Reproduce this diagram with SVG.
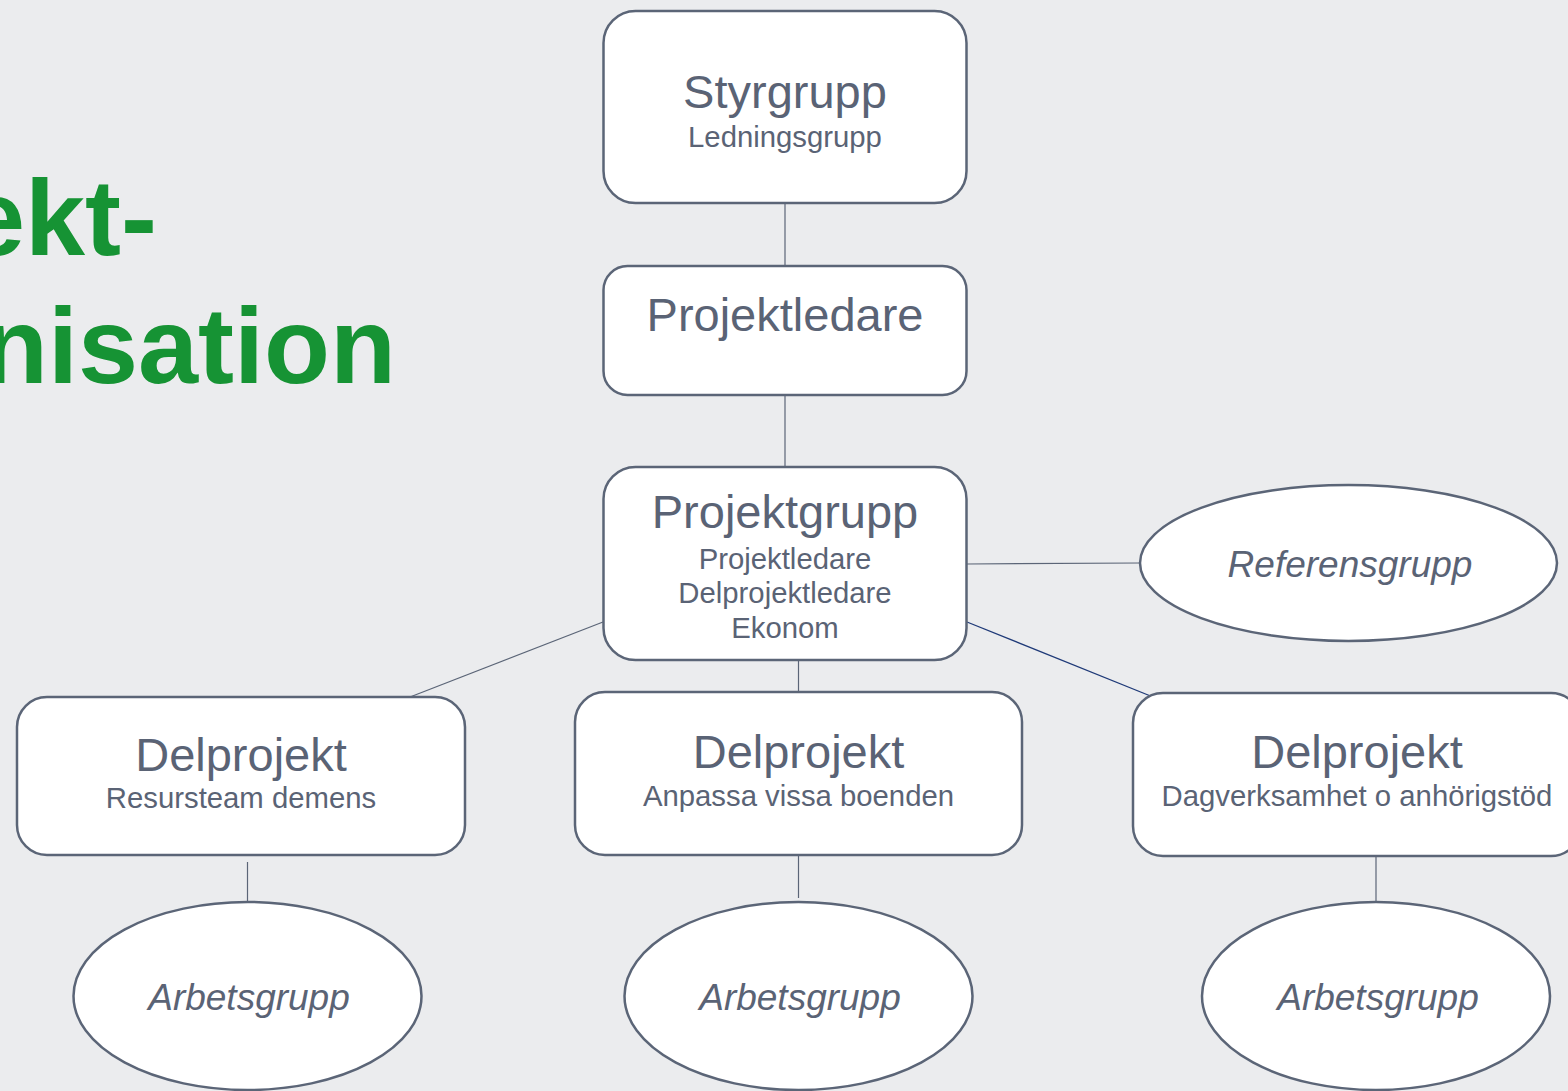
<svg xmlns="http://www.w3.org/2000/svg" width="1568" height="1091" viewBox="0 0 1568 1091">
<style>
.bg{fill:#EBECEE}
.box{fill:#FFFFFF;stroke:#5B6577;stroke-width:2.5}
.t{font-family:"Liberation Sans",Arial,sans-serif;fill:#5A6375;text-anchor:middle}
.big{font-size:47px}
.sub{font-size:29.3px}
.it{font-style:italic;font-size:37px}
.title{font-family:"Liberation Sans",Arial,sans-serif;font-weight:bold;font-size:108px;fill:#169334;text-anchor:end}
.c{stroke:#5B6577;stroke-width:1.2;fill:none}
.cn{stroke:#1F3A78;stroke-width:1.3;fill:none}
</style>
<rect class="bg" x="0" y="0" width="1568" height="1091"/>
<g id="title">
<text class="title" x="157" y="255">ekt-</text>
<text class="title" x="396" y="383">nisation</text>
</g>
<g id="connectors">
<line class="c" x1="785" y1="203" x2="785" y2="266"/>
<line class="c" x1="785" y1="395" x2="785" y2="467"/>
<line class="c" x1="967" y1="564" x2="1140" y2="563"/>
<line class="c" x1="798.5" y1="660" x2="798.5" y2="692"/>
<line class="c" x1="603" y1="622" x2="410" y2="697"/>
<line class="cn" x1="967" y1="622" x2="1153" y2="697"/>
<line class="c" x1="247.5" y1="862" x2="247.5" y2="901"/>
<line class="c" x1="798.5" y1="856" x2="798.5" y2="898"/>
<line class="c" x1="1376" y1="856" x2="1376" y2="901"/>
</g>
<g id="styrgrupp">
<rect class="box" x="603.5" y="11" width="363" height="192" rx="32"/>
<text class="t big" x="785" y="108">Styrgrupp</text>
<text class="t sub" x="785" y="147">Ledningsgrupp</text>
</g>
<g id="projektledare">
<rect class="box" x="603.5" y="266" width="363" height="129" rx="24"/>
<text class="t big" x="785" y="331">Projektledare</text>
</g>
<g id="projektgrupp">
<rect class="box" x="603.5" y="467" width="363" height="193" rx="32"/>
<text class="t big" x="785" y="528">Projektgrupp</text>
<text class="t sub" x="785" y="569">Projektledare</text>
<text class="t sub" x="785" y="603">Delprojektledare</text>
<text class="t sub" x="785" y="638">Ekonom</text>
</g>
<g id="referensgrupp">
<ellipse class="box" cx="1348.5" cy="563" rx="208.5" ry="78"/>
<text class="t it" x="1350" y="577">Referensgrupp</text>
</g>
<g id="delprojekt1">
<rect class="box" x="17" y="697" width="448" height="158" rx="30"/>
<text class="t big" x="241" y="771">Delprojekt</text>
<text class="t sub" x="241" y="808">Resursteam demens</text>
</g>
<g id="delprojekt2">
<rect class="box" x="575" y="692" width="447" height="163" rx="30"/>
<text class="t big" x="798.5" y="768">Delprojekt</text>
<text class="t sub" x="798.5" y="806">Anpassa vissa boenden</text>
</g>
<g id="delprojekt3">
<rect class="box" x="1133" y="693" width="448" height="163" rx="30"/>
<text class="t big" x="1357" y="768">Delprojekt</text>
<text class="t sub" x="1357" y="806">Dagverksamhet o anhörigstöd</text>
</g>
<g id="arbetsgrupp1">
<ellipse class="box" cx="247.5" cy="996" rx="174" ry="94"/>
<text class="t it" x="249" y="1010">Arbetsgrupp</text>
</g>
<g id="arbetsgrupp2">
<ellipse class="box" cx="798.5" cy="996" rx="174" ry="94"/>
<text class="t it" x="800" y="1010">Arbetsgrupp</text>
</g>
<g id="arbetsgrupp3">
<ellipse class="box" cx="1376" cy="996" rx="174" ry="94"/>
<text class="t it" x="1378" y="1010">Arbetsgrupp</text>
</g>
</svg>
